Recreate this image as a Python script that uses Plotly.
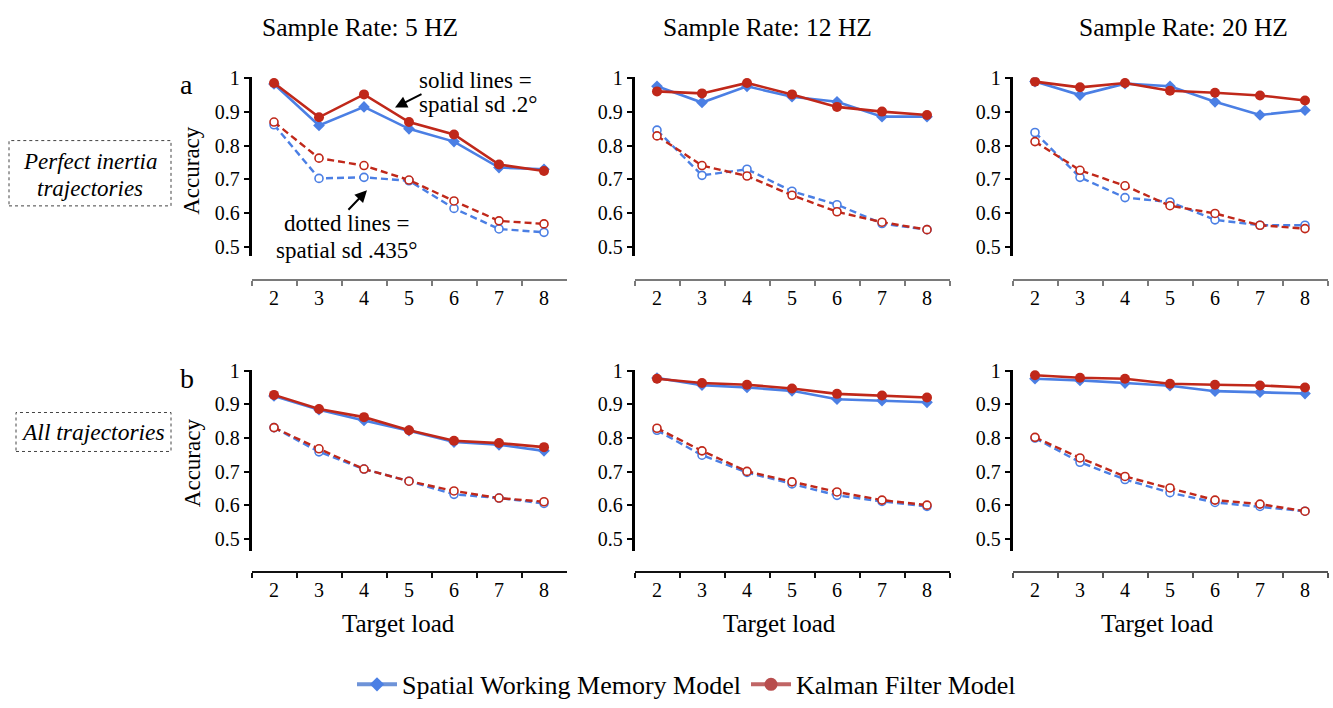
import plotly.graph_objects as go

# ---------------- data ----------------
LOADS = ["2", "3", "4", "5", "6", "7", "8"]
RATE_TITLES = ["Sample Rate: 5 HZ", "Sample Rate: 12 HZ", "Sample Rate: 20 HZ"]
ROW_TAGS = ["a", "b"]
LEGEND_NAMES = ["Spatial Working Memory Model", "Kalman Filter Model"]

# Row a: perfect inertia trajectories
a5_swm_solid = [0.983, 0.860, 0.915, 0.850, 0.812, 0.735, 0.730]
a5_kf_solid = [0.986, 0.884, 0.952, 0.870, 0.833, 0.744, 0.725]
a5_swm_dot = [0.862, 0.703, 0.706, 0.696, 0.614, 0.553, 0.543]
a5_kf_dot = [0.870, 0.763, 0.741, 0.698, 0.636, 0.577, 0.568]

a12_swm_solid = [0.976, 0.928, 0.976, 0.945, 0.930, 0.886, 0.886]
a12_kf_solid = [0.961, 0.955, 0.986, 0.952, 0.915, 0.901, 0.891]
a12_swm_dot = [0.846, 0.712, 0.730, 0.665, 0.625, 0.569, 0.551]
a12_kf_dot = [0.829, 0.741, 0.710, 0.653, 0.604, 0.573, 0.551]

a20_swm_solid = [0.990, 0.950, 0.984, 0.976, 0.930, 0.891, 0.905]
a20_kf_solid = [0.990, 0.973, 0.986, 0.963, 0.957, 0.949, 0.934]
a20_swm_dot = [0.839, 0.706, 0.646, 0.633, 0.580, 0.564, 0.564]
a20_kf_dot = [0.812, 0.727, 0.681, 0.622, 0.599, 0.564, 0.554]

# Row b: all trajectories
b5_swm_solid = [0.925, 0.884, 0.852, 0.822, 0.788, 0.780, 0.762]
b5_kf_solid = [0.928, 0.886, 0.862, 0.823, 0.792, 0.785, 0.773]
b5_swm_dot = [0.831, 0.759, 0.708, 0.672, 0.633, 0.622, 0.606]
b5_kf_dot = [0.831, 0.768, 0.708, 0.672, 0.643, 0.622, 0.611]

b12_swm_solid = [0.978, 0.957, 0.950, 0.940, 0.915, 0.911, 0.906]
b12_kf_solid = [0.976, 0.963, 0.958, 0.947, 0.931, 0.926, 0.920]
b12_swm_dot = [0.823, 0.749, 0.698, 0.664, 0.630, 0.612, 0.597]
b12_kf_dot = [0.829, 0.762, 0.701, 0.670, 0.640, 0.616, 0.601]

b20_swm_solid = [0.976, 0.971, 0.963, 0.955, 0.939, 0.936, 0.932]
b20_kf_solid = [0.986, 0.979, 0.976, 0.961, 0.958, 0.956, 0.950]
b20_swm_dot = [0.800, 0.728, 0.677, 0.638, 0.609, 0.597, 0.583]
b20_kf_dot = [0.802, 0.741, 0.686, 0.652, 0.616, 0.604, 0.583]

PANELS = [
    [(a5_swm_solid, a5_kf_solid, a5_swm_dot, a5_kf_dot),
     (a12_swm_solid, a12_kf_solid, a12_swm_dot, a12_kf_dot),
     (a20_swm_solid, a20_kf_solid, a20_swm_dot, a20_kf_dot)],
    [(b5_swm_solid, b5_kf_solid, b5_swm_dot, b5_kf_dot),
     (b12_swm_solid, b12_kf_solid, b12_swm_dot, b12_kf_dot),
     (b20_swm_solid, b20_kf_solid, b20_swm_dot, b20_kf_dot)],
]

Y_TICKS = [0.5, 0.6, 0.7, 0.8, 0.9, 1.0]
Y_TICKTEXT = ["0.5", "0.6", "0.7", "0.8", "0.9", "1"]

# ---------------- style / layout ----------------
W, H = 1333, 708
FONT = "Liberation Serif, Times New Roman, Times, serif"
BLUE = "#4b7fe4"
RED = "#c0281a"


def px_x(x):
    return x / W


def px_y(y):
    return 1 - y / H


COL_X = [(251.5, 566.5), (634.5, 949.5), (1012.5, 1327.5)]
ROWS = [
    dict(ydom=(69, 252), yrange=[0.4740, 1.0029], xpos=277,
         xline=["#7a7a7a", "#7a7a7a", "#7a7a7a"]),
    dict(ydom=(369, 555), yrange=[0.4653, 1.0029], xpos=577,
         xline=["#111111", "#111111", "#555555"]),
]

fig = go.Figure()
layout = dict(
    width=W, height=H, margin=dict(l=0, r=0, t=0, b=0),
    paper_bgcolor="white", plot_bgcolor="white",
    font=dict(family=FONT, color="black", size=20),
    showlegend=True,
)

for r, row in enumerate(ROWS):
    for c in range(3):
        i = r * 3 + c + 1
        xk = "xaxis" if i == 1 else f"xaxis{i}"
        yk = "yaxis" if i == 1 else f"yaxis{i}"
        xref = "x" if i == 1 else f"x{i}"
        yref = "y" if i == 1 else f"y{i}"
        layout[xk] = dict(
            domain=[px_x(COL_X[c][0]), px_x(COL_X[c][1])],
            anchor="free", position=px_y(row["xpos"]),
            type="category", categoryorder="array", categoryarray=LOADS,
            range=[-0.5, 6.5], tickson="boundaries",
            ticks="outside", ticklen=5, tickwidth=1.5, tickcolor=row["xline"][c],
            showline=True, linecolor=row["xline"][c], linewidth=2,
            showgrid=False, zeroline=False,
            tickfont=dict(family=FONT, size=20, color="black"),
        )
        layout[yk] = dict(
            domain=[px_y(row["ydom"][1]), px_y(row["ydom"][0])],
            anchor=xref, range=row["yrange"],
            tickmode="array", tickvals=Y_TICKS, ticktext=Y_TICKTEXT,
            ticks="outside", ticklen=5, tickwidth=1.5, tickcolor="black",
            showline=True, linecolor="black", linewidth=2.5,
            showgrid=False, zeroline=False,
            tickfont=dict(family=FONT, size=20, color="black"),
        )
        swm_s, kf_s, swm_d, kf_d = PANELS[r][c]
        specs = [
            (swm_d, BLUE, "dot"),
            (kf_d, RED, "dot"),
            (swm_s, BLUE, "solid"),
            (kf_s, RED, "solid"),
        ]
        for vals, color, style in specs:
            if style == "solid":
                marker = dict(symbol="diamond" if color == BLUE else "circle",
                              size=9 if color == BLUE else 10, color=color,
                              line=dict(width=0))
                line = dict(color=color, width=2.6)
            else:
                marker = dict(symbol="circle", size=8, color="white",
                              line=dict(color=color, width=1.6))
                line = dict(color=color, width=2.4, dash="7px,4px")
            fig.add_trace(go.Scatter(
                x=LOADS, y=vals, mode="lines+markers", line=line, marker=marker,
                xaxis=xref, yaxis=yref, showlegend=False, hoverinfo="skip",
            ))

# legend-only traces
fig.add_trace(go.Scatter(
    x=[None], y=[None], mode="lines+markers", name=LEGEND_NAMES[0],
    line=dict(color="#6e93d8", width=4),
    marker=dict(symbol="diamond", size=11, color="#4b7fe4"),
    xaxis="x", yaxis="y",
))
fig.add_trace(go.Scatter(
    x=[None], y=[None], mode="lines+markers", name=LEGEND_NAMES[1],
    line=dict(color="#c06565", width=4),
    marker=dict(symbol="circle", size=13, color="#b84d4d"),
    xaxis="x", yaxis="y",
))
layout["legend"] = dict(
    orientation="h", x=0.515, xanchor="center", y=px_y(692), yanchor="middle",
    font=dict(family=FONT, size=26, color="black"), bgcolor="rgba(0,0,0,0)",
    itemwidth=40,
)

ann = []


def text(x, y, s, size, **kw):
    d = dict(x=px_x(x), y=px_y(y), xref="paper", yref="paper", text=s,
             showarrow=False, xanchor="center", yanchor="middle",
             font=dict(family=FONT, size=size, color="black"))
    d.update(kw)
    ann.append(d)


for cx, t in zip([360, 767, 1183], RATE_TITLES):
    text(cx, 18, t, 25.5)
for cx in [398, 779, 1157]:
    text(cx, 629, "Target load", 25)
for cy in [165, 465]:
    text(192, cy, "Accuracy", 23, textangle=-90)
text(186, 76, ROW_TAGS[0], 28)
text(187, 378, ROW_TAGS[1], 28)
text(90, 155, "<i>Perfect inertia</i>", 23)
text(90, 183, "<i>trajectories</i>", 23)
text(93, 433, "<i>All trajectories</i>", 23.5)
text(475, 72, "solid lines =", 23)
text(478, 97, "spatial sd .2°", 23)
text(347, 219, "dotted lines =", 23)
text(347, 247, "spatial sd .435°", 23)

# arrows (head at x,y; tail offset in pixels)
for hx, hy, tx, ty in [(395, 100, 423, 86), (367, 185, 347, 206)]:
    ann.append(dict(x=px_x(hx), y=px_y(hy), xref="paper", yref="paper", text="",
                    showarrow=True, ax=tx - hx, ay=ty - hy, axref="pixel", ayref="pixel",
                    arrowhead=2, arrowsize=1.2, arrowwidth=2, arrowcolor="black"))
layout["annotations"] = ann

layout["shapes"] = [
    dict(type="rect", xref="paper", yref="paper",
         x0=px_x(9), x1=px_x(171), y0=px_y(201), y1=px_y(134),
         line=dict(color="#444444", width=1, dash="dot")),
    dict(type="rect", xref="paper", yref="paper",
         x0=px_x(16), x1=px_x(171), y0=px_y(453), y1=px_y(413),
         line=dict(color="#444444", width=1, dash="dot")),
]

fig.update_layout(**layout)
fig.write_html("out.html")
